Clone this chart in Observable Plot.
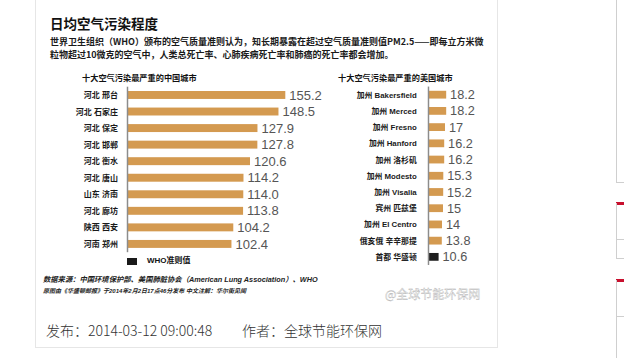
<!DOCTYPE html>
<html>
<head>
<meta charset="utf-8">
<script src="https://cdn.jsdelivr.net/npm/d3@7"></script>
<script src="https://cdn.jsdelivr.net/npm/@observablehq/plot@0.6"></script>
<style>
html,body{margin:0;padding:0;background:#fff;}
body{width:624px;height:358px;overflow:hidden;position:relative;font-family:"Noto Sans CJK SC",sans-serif;}
.abs{position:absolute;white-space:nowrap;}
#card{position:absolute;left:35px;top:-2px;width:463px;height:350px;border:1px solid #e6e6e6;box-sizing:border-box;}
.title{left:50px;top:15px;font-size:13.5px;line-height:16px;font-weight:bold;color:#111;}
.para{left:50px;font-size:9px;line-height:10px;font-weight:bold;color:#1a1a1a;}
.sub{font-size:8.2px;line-height:10px;font-weight:bold;color:#111;}
.src{left:43px;font-weight:bold;font-style:italic;color:#222;font-family:"Liberation Sans","Noto Sans CJK SC",sans-serif;}
.foot{top:320px;font-size:14px;line-height:20px;color:#333;font-weight:300;}
.vline{position:absolute;width:1px;background:#cfcfcf;}
.hline{position:absolute;height:1px;background:#cfcfcf;}
.red{position:absolute;height:3px;background:#c8102e;}
</style>
</head>
<body>
<div id="card"></div>
<div class="abs title">日均空气污染程度</div>
<div class="abs para" style="top:37px">世界卫生组织（WHO）颁布的空气质量准则认为，知长期暴露在超过空气质量准则值PM2.5——即每立方米微</div>
<div class="abs para" style="top:50px">粒物超过10微克的空气中，人类总死亡率、心肺疾病死亡率和肺癌的死亡率都会增加。</div>
<div class="abs sub" style="left:82px;top:72px">十大空气污染最严重的中国城市</div>
<div class="abs sub" style="left:338px;top:72px">十大空气污染最严重的美国城市</div>
<div id="left" class="abs" style="left:40px;top:80px"></div>
<div id="right" class="abs" style="left:330px;top:80px"></div>
<div class="abs" style="left:127px;top:257.5px;width:10px;height:7px;background:#1a1a1a"></div>
<div class="abs" style="left:147px;top:256px;font-size:8px;line-height:10px;font-weight:bold;color:#111;font-family:'Liberation Sans','Noto Sans CJK SC',sans-serif">WHO准则值</div>
<div class="abs src" style="top:274.5px;font-size:7.3px;line-height:9px">数据来源：中国环境保护部、美国肺脏协会（American Lung Association）、WHO</div>
<div class="abs src" style="top:287px;font-size:6px;line-height:8px">原图由《华盛顿邮报》于2014年2月2日17点46分发布 中文注解：华尔街见闻</div>
<div class="abs" style="left:385px;top:287px;font-size:12px;line-height:14px;color:#fafafa;-webkit-text-stroke:0.3px #a8a8a8;">@全球节能环保网</div>
<div class="abs foot" style="left:46px">发布：2014-03-12 09:00:48</div>
<div class="abs foot" style="left:242px">作者：全球节能环保网</div>

<div class="vline" style="left:616px;top:0;height:182px"></div>
<div class="hline" style="left:616px;top:182px;width:8px"></div>
<div class="red" style="left:616px;top:202px;width:8px"></div>
<div class="vline" style="left:616px;top:203px;height:56px"></div>
<div class="hline" style="left:616px;top:239px;width:8px"></div>
<div class="hline" style="left:616px;top:258px;width:8px"></div>
<div class="red" style="left:616px;top:279px;width:8px"></div>
<div class="vline" style="left:616px;top:280px;height:78px"></div>
<div class="hline" style="left:616px;top:316px;width:8px"></div>

<script>
// ---- data ----
const cnCities = ["河北 邢台","河北 石家庄","河北 保定","河北 邯郸","河北 衡水","河北 唐山","山东 济南","河北 廊坊","陕西 西安","河南 郑州"];
const cnValues = [155.2,148.5,127.9,127.8,120.6,114.2,114.0,113.8,104.2,102.4];
const usCities = ["加州 Bakersfield","加州 Merced","加州 Fresno","加州 Hanford","加州 洛杉矶","加州 Modesto","加州 Visalia","宾州 匹兹堡","加州 El Centro","俄亥俄 辛辛那提","首都 华盛顿"];
const usValues = [18.2,18.2,17,16.2,16.2,15.3,15.2,15,14,13.8,10.6];
const usGroups = ["city","city","city","city","city","city","city","city","city","city","capital"];

const cn = cnCities.map((c,i)=>({city:c, value:cnValues[i], label:cnValues[i].toFixed(1)}));
const us = usCities.map((c,i)=>({city:c, value:usValues[i], label:String(usValues[i]), group:usGroups[i]}));

const step = 16.55;
const pxPerUnit = 1.02;
const font = '"Liberation Sans","Noto Sans CJK SC",sans-serif';
const barColor = "#d49a50";

function chart(data, cities, leftMargin, tickPad, h) {
  const mt = 6.7;
  return Plot.plot({
    width: leftMargin + 200,
    height: h,
    marginLeft: leftMargin,
    marginRight: 0,
    marginTop: mt,
    marginBottom: h - mt - cities.length * step,
    x: {domain: [0, 10], range: [leftMargin, leftMargin + 10 * pxPerUnit], axis: null},
    y: {domain: cities, paddingInner: 0.52, paddingOuter: 0.26, round: false, axis: null},
    color: {domain: ["city","capital"], range: [barColor, "#1e1e1e"]},
    style: {background: "transparent", overflow: "visible", fontFamily: font},
    marks: [
      Plot.barX(data, {x: "value", y: "city", fill: d => d.group || "city"}),
      Plot.ruleX([0], {stroke: "#8c8c8c", strokeWidth: 1.5}),
      Plot.axisY({tickSize: 0, tickPadding: tickPad, label: null, fontSize: 8, fontWeight: "bold", fill: "#1a1a1a"}),
      Plot.text(data, {x: "value", y: "city", text: "label", dx: 3.5, textAnchor: "start",
        fill: "#555", fontSize: 13, fontFamily: font})
    ]
  });
}

document.getElementById("left").appendChild(chart(cn, cnCities, 87, 9.5, 180));
document.getElementById("right").appendChild(chart(us, usCities, 100, 12, 196));
</script>
</body>
</html>
